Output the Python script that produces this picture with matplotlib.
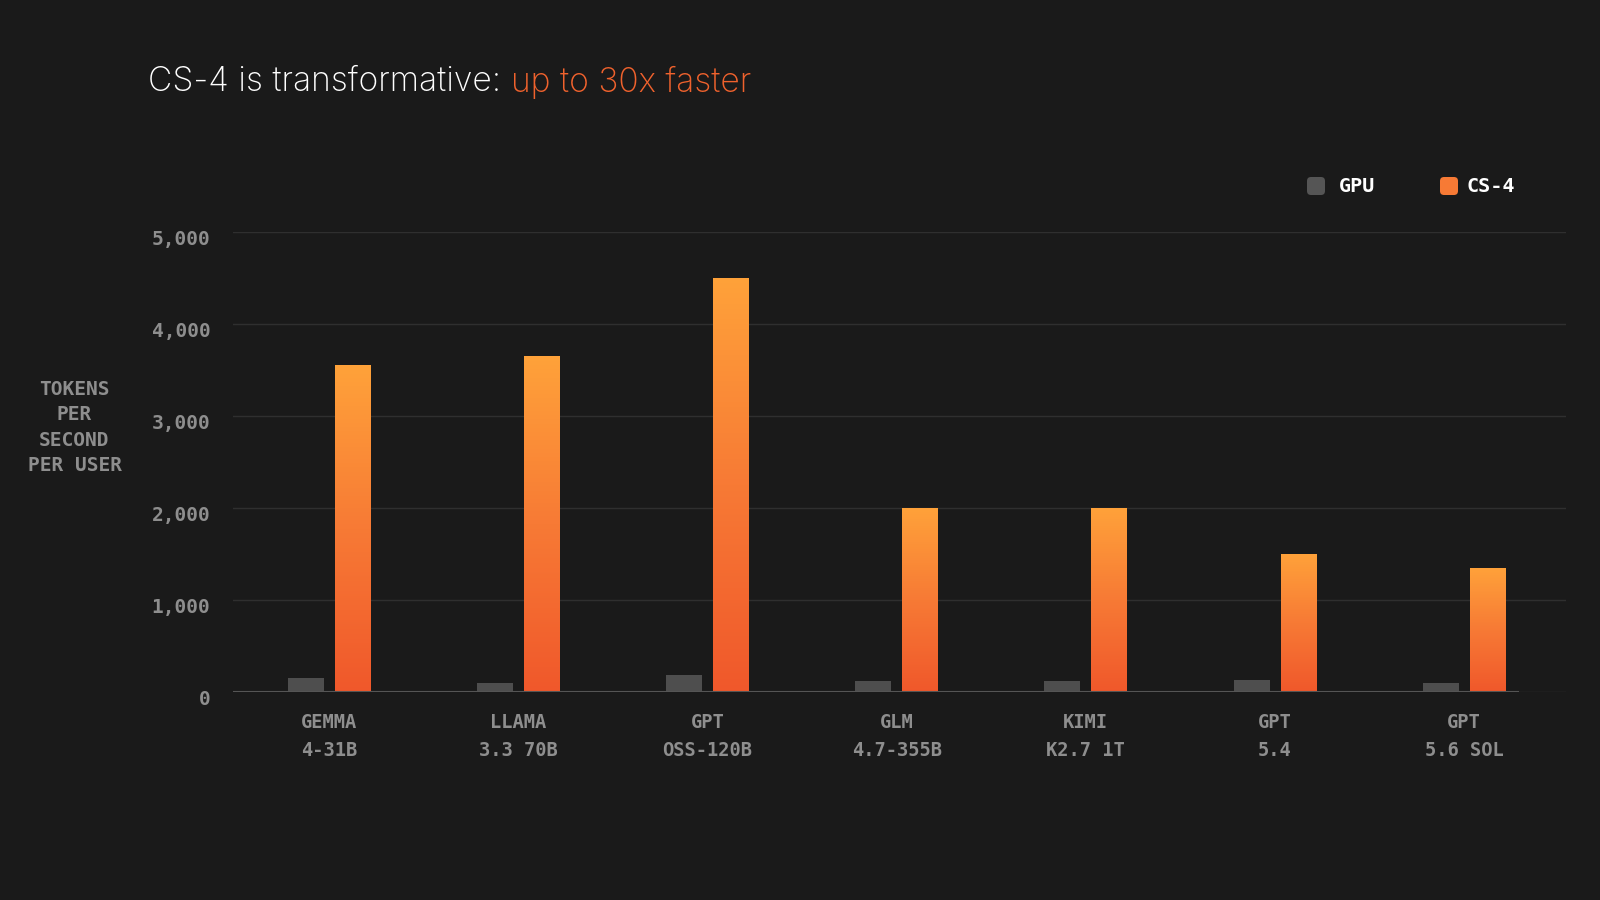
import numpy as np
import matplotlib
matplotlib.use("Agg")
import matplotlib.pyplot as plt
from matplotlib.colors import LinearSegmentedColormap
from matplotlib.patches import FancyBboxPatch
from matplotlib.transforms import ScaledTranslation

# ---- data ----
models = ["GEMMA\n4-31B", "LLAMA\n3.3 70B", "GPT\nOSS-120B", "GLM\n4.7-355B",
          "KIMI\nK2.7 1T", "GPT\n5.4", "GPT\n5.6 SOL"]
gpu = [150, 100, 180, 120, 120, 130, 100]
cs4 = [3550, 3650, 4500, 2000, 2000, 1500, 1350]
yticks = [0, 1000, 2000, 3000, 4000, 5000]
ytick_labels = ["0", "1,000", "2,000", "3,000", "4,000", "5,000"]
title_white = "CS-4 is transformative: "
title_orange = "up to 30x faster"
ylabel = "TOKENS\nPER\nSECOND\nPER USER"

BG = "#1a1a1a"
GRID = "#2f2f2f"
BASE = "#555555"
GPU_C = "#4e4e4e"
TXT = "#8e8e8e"
ORANGE = "#f0622d"
MONO = "DejaVu Sans Mono"

fig = plt.figure(figsize=(16, 9), dpi=100, facecolor=BG)
ax = fig.add_axes([0.1454, 0.2314, 0.979 - 0.1454, 0.7426 - 0.2314])
ax.set_facecolor(BG)

x = np.arange(len(models))
w = 0.19
off = 0.124

ax.bar(x - off, gpu, width=w, color=GPU_C, zorder=3)
cs_bars = ax.bar(x + off, cs4, width=w, color="#f77a35", zorder=3)

cmap = LinearSegmentedColormap.from_list("o", ["#f0582b", "#f77a35", "#ffa23a"])
grad = np.linspace(0, 1, 256).reshape(-1, 1)
for b in cs_bars:
    x0, y0 = b.get_x(), b.get_y()
    im = ax.imshow(grad, cmap=cmap, origin="lower", aspect="auto",
                   extent=(x0, x0 + b.get_width(), y0, y0 + b.get_height()),
                   zorder=4, interpolation="bilinear")
    im.set_clip_path(b)
ax.set_xlim(-0.51, 6.54)
ax.set_ylim(0, 5000)

# grid
for yv in yticks:
    ax.axhline(yv, color=GRID, lw=1.0, zorder=1)
ax.plot([-0.51, 6.29], [0, 0], color=BASE, lw=1.5, zorder=5, solid_capstyle="butt")

for s in ax.spines.values():
    s.set_visible(False)

ax.set_yticks(yticks)
ax.set_yticklabels(ytick_labels, fontfamily=MONO, fontsize=14, color=TXT,
                   fontweight="bold")
ax.tick_params(axis="y", length=0, pad=16)
for lab in ax.get_yticklabels():
    lab.set_transform(lab.get_transform() + ScaledTranslation(0, -6 / 100, fig.dpi_scale_trans))

ax.set_xticks(x)
ax.set_xticklabels(models, fontfamily=MONO, fontsize=13.5, color=TXT, linespacing=1.65,
                   fontweight="bold")
ax.tick_params(axis="x", length=0, pad=15)

fig.text(74.5 / 1600, 1 - 427.6 / 900, ylabel, ha="center", va="center",
         multialignment="center", fontfamily=MONO, fontsize=14, color=TXT,
         linespacing=1.43, fontweight="bold")

# title
t1 = fig.text(148 / 1600, 1 - 82 / 900, title_white, ha="left", va="center",
              fontfamily="Inter", fontsize=24.2, color="white", fontweight="light")
fig.canvas.draw()
bb = t1.get_window_extent()
fig.text(bb.x1 / 1600, 1 - 82 / 900, title_orange, ha="left", va="center",
         fontfamily="Inter", fontsize=24.2, color=ORANGE, fontweight="light")

# legend
asp = 1600 / 900
def lsquare(xc, yc, color):
    s = 18
    p = FancyBboxPatch(((xc - s / 2) / 1600, 1 - (yc + s / 2) / 900), s / 1600, s / 900,
                       boxstyle="round,pad=0,rounding_size=0.0025",
                       mutation_aspect=asp, transform=fig.transFigure,
                       facecolor=color, edgecolor="none")
    fig.patches.append(p)

lsquare(1316, 186, "#555555")
fig.text(1339 / 1600, 1 - 187 / 900, "GPU", ha="left", va="center",
         fontfamily=MONO, fontsize=14.5, fontweight="bold", color="white")
lsquare(1449, 186, "#f77a35")
fig.text(1466.6 / 1600, 1 - 187 / 900, "CS-4", ha="left", va="center",
         fontfamily=MONO, fontsize=14.5, fontweight="bold", color="white")

fig.savefig("out.png", dpi=100, facecolor=BG)
